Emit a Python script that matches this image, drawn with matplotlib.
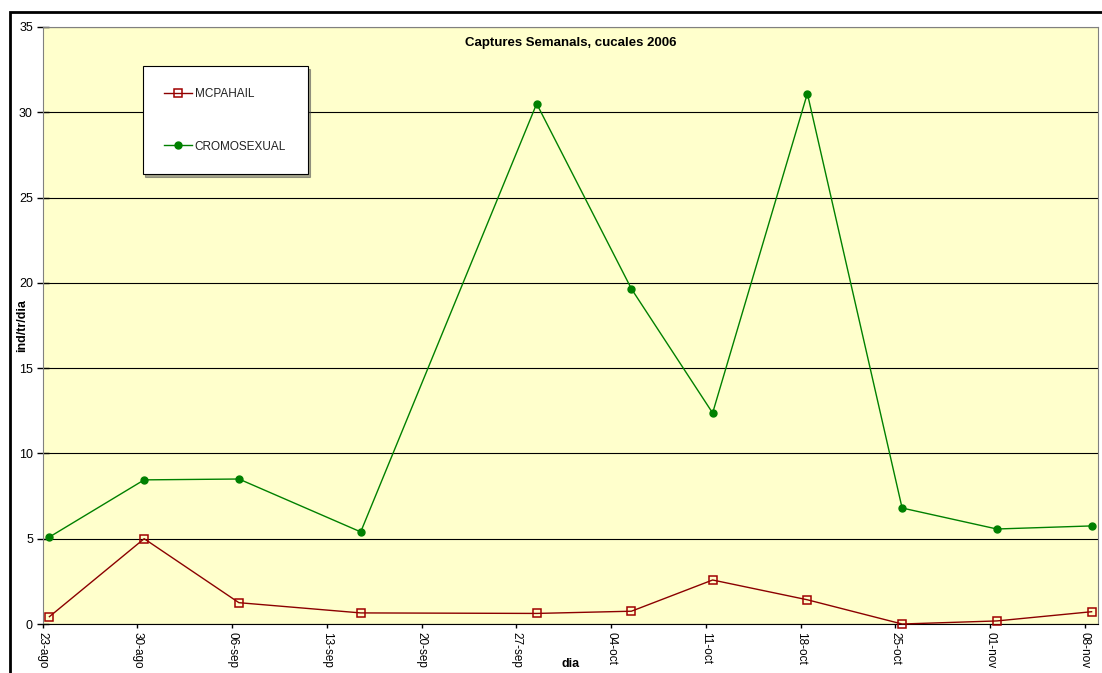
import numpy as np
import pandas as pd
import matplotlib
matplotlib.use("Agg")
import matplotlib.pyplot as plt
from matplotlib.patches import Rectangle

# sampling dates (2006) and weekly captures
dates = ["2006-08-23", "2006-08-30", "2006-09-06", "2006-09-15", "2006-09-28",
         "2006-10-05", "2006-10-11", "2006-10-18", "2006-10-25", "2006-11-01",
         "2006-11-08"]
mcpahail = [0.43, 5.0, 1.25, 0.65, 0.62, 0.75, 2.58, 1.42, 0.0, 0.18, 0.72]
cromosexual = [5.1, 8.45, 8.5, 5.4, 30.5, 19.65, 12.37, 31.1, 6.8, 5.57, 5.75]

tick_dates = pd.date_range("2006-08-23", "2006-11-08", freq="7D")
tick_labels = ["23-ago", "30-ago", "06-sep", "13-sep", "20-sep", "27-sep",
               "04-oct", "11-oct", "18-oct", "25-oct", "01-nov", "08-nov"]

# Excel puts date points in the middle of the day
x = pd.to_datetime(dates) + pd.Timedelta(hours=12)

plt.rcParams["font.family"] = ["Liberation Sans", "DejaVu Sans"]

fig = plt.figure(figsize=(11.02, 6.73), dpi=100)
ax = fig.add_axes([0.0387, 0.0728, 0.958, 0.8871])
ax.set_facecolor("#FFFFCC")

# outer chart frame
fig.patches.append(Rectangle((10 / 1102, -0.1), 1.2, 1 - 12 / 673 + 0.1,
                             transform=fig.transFigure, fill=False,
                             edgecolor="black", linewidth=2, zorder=0))

ax.set_ylim(0, 35)
ax.set_yticks(np.arange(0, 36, 5))
ax.yaxis.grid(True, color="black", linewidth=0.8)
ax.set_axisbelow(True)

ax.plot(x, mcpahail, color="#8B0000", linewidth=1, marker="s", markersize=6,
        markerfacecolor="none", markeredgecolor="#A00000", markeredgewidth=1.1,
        label="MCPAHAIL", clip_on=False, zorder=3)
ax.plot(x, cromosexual, color="#008000", linewidth=1, marker="o", markersize=5,
        markerfacecolor="#008000", markeredgecolor="#008000",
        label="CROMOSEXUAL", clip_on=False, zorder=3)

ax.set_xlim(pd.Timestamp("2006-08-23"), pd.Timestamp("2006-11-09"))
ax.set_xticks(tick_dates)
ax.set_xticklabels(tick_labels, rotation=-90, fontsize=8.5)
ax.tick_params(axis="y", labelsize=9, direction="inout", length=8, width=1,
               pad=3)
ax.tick_params(axis="x", direction="out", length=3, width=1, pad=3)

for side in ["left", "top", "right"]:
    ax.spines[side].set_color("#808080")
ax.spines["bottom"].set_color("black")

ax.set_xlabel("dia", fontsize=9, fontweight="bold")
ax.xaxis.set_label_coords(0.5, -34 / 597)
ax.set_ylabel("ind/tr/dia", fontsize=9, fontweight="bold")
ax.yaxis.set_label_coords(-15 / 1055.6, 0.5)
ax.set_title("Captures Semanals, cucales 2006", fontsize=9.5, fontweight="bold",
             y=0.955)

leg = ax.legend(loc="upper left", bbox_to_anchor=(100 / 1055.6, 1 - 39 / 597),
                fontsize=8.5, frameon=True, fancybox=False, shadow=True,
                edgecolor="black", framealpha=1, borderpad=1.85,
                labelspacing=3.45, handlelength=2.3, handletextpad=0.25,
                borderaxespad=0)
leg.get_frame().set_linewidth(0.8)
for t in leg.get_texts():
    t.set_color("#222222")

fig.savefig("out.png", dpi=100)
